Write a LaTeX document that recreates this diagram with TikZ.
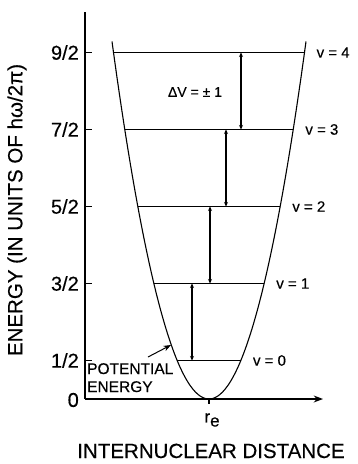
\documentclass[tikz,border=0pt]{standalone}
\usepackage{fontspec}
\setmainfont{Liberation Sans}[BoldFont=Liberation Sans,BoldFeatures={FakeBold=0.35}]
\usetikzlibrary{arrows.meta}
\begin{document}
\begin{tikzpicture}[x=1pt,y=-1pt,>=Stealth,
    every node/.style={inner sep=0pt,font=\bfseries},
    axis/.style={line width=1.4pt},
    level/.style={line width=1.6pt},
    jump/.style={{Stealth[length=4.5pt,width=4pt]}-{Stealth[length=4.5pt,width=4pt]},line width=1.4pt},
    ticklab/.style={anchor=east,font=\fontsize{20}{20}\selectfont\bfseries},
    vlab/.style={anchor=west,font=\fontsize{15}{15}\selectfont\bfseries},
    bigtext/.style={font=\fontsize{20.5}{20.5}\selectfont\bfseries}]
    \useasboundingbox (0,0) rectangle (358,464);
    % axes
    \coordinate (o) at (85,399);
    \coordinate (ytop) at (85,12);
    \coordinate (xend) at (323,399);
    \coordinate (re) at (209,399);
    \draw[axis] (ytop) -- (o);
    \draw[axis,->] (o) -- (xend);
    \draw[axis] (re) -- ++(0,5);
    \node[ticklab] (t0) at (79,400) {0};
    \node[font=\fontsize{17}{17}\selectfont\bfseries] (relab) at (212,420) {r\raisebox{-0.45ex}{e}};
    \node[bigtext,rotate=90] (ylab) at (17,210) {ENERGY (IN UNITS OF hω/2π)};
    \node[bigtext,anchor=base] (xlab) at (211,458) {INTERNUCLEAR DISTANCE};
    % potential curve
    \draw[line width=1.1pt] plot[domain=-97:97,samples=80,smooth] ({209+\x},{399-0.038*\x*\x});
    % levels
    \foreach \n/\num in {0/1,1/3,2/5,3/7,4/9} {
        \pgfmathsetmacro\yy{399-77*(\n+0.5)}
        \pgfmathsetmacro\dx{45*sqrt(\n+0.5)}
        \coordinate (l\n) at ({209-\dx},\yy);
        \coordinate (r\n) at ({209+\dx},\yy);
        \draw[level] (l\n) -- (r\n);
        \draw[axis] (85,\yy) -- (92,\yy);
        \node[ticklab] (t\num) at (79,\yy) {\num/2};
        \node[vlab] (v\n) at ({209+\dx+12},\yy) {v = \n};
    }
    % transitions
    \foreach \n/\m/\ax in {1/0/192,2/1/210,3/2/226,4/3/241} {
        \coordinate (ax\n) at (\ax,0);
        \draw[jump] (ax\n |- l\n) -- (ax\n |- l\m);
    }
    \node[font=\fontsize{14}{14}\selectfont\bfseries] (dv) at (195,92) {ΔV = ± 1};
    % potential energy label
    \node[anchor=north west,align=left,font=\fontsize{15.5}{18}\selectfont\bfseries] (pe) at (87,363) {POTENTIAL\\ENERGY};
    \coordinate (pe0) at (148,357);
    \coordinate (pe1) at (171,345);
    \draw[->,line width=1pt] (pe0) -- (pe1);
\end{tikzpicture}
\end{document}
